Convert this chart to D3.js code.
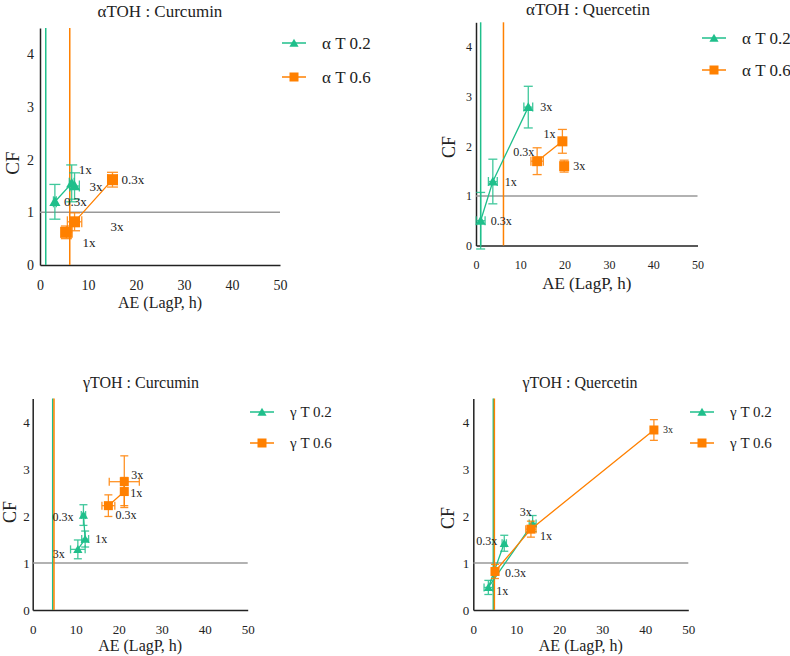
<!DOCTYPE html>
<html>
<head>
<meta charset="utf-8">
<script src="https://cdn.jsdelivr.net/npm/d3@7"></script>
<style>
  body { margin: 0; background: #fff; }
  svg text { font-family: "Liberation Serif", "Tinos", "Times New Roman", "DejaVu Serif", serif; fill: #222; }
</style>
</head>
<body>
<svg id="chart" width="790" height="656"></svg>
<script>
// dose labels, shared by every series
var doses = ["0.3x", "1x", "3x"];
var xTicks = [0, 10, 20, 30, 40, 50];
var yTicks = [0, 1, 2, 3, 4];

// αTOH : Curcumin
var aCurT2AE = [3.1, 6.6, 7.2], aCurT2CF = [1.2, 1.55, 1.5];
var aCurT2AEerr = [0.3, 0.5, 1.0], aCurT2CFerr = [0.33, 0.35, 0.25];
var aCurT6AE = [15.1, 5.5, 7.2], aCurT6CF = [1.62, 0.62, 0.82];
var aCurT6AEerr = [1.0, 1.2, 1.5], aCurT6CFerr = [0.14, 0.12, 0.17];
var aCurCtrl = [1.2, 6.2];

// αTOH : Quercetin
var aQueT2AE = [1.05, 3.8, 11.8], aQueT2CF = [0.5, 1.29, 2.79];
var aQueT2AEerr = [1.0, 1.0, 1.0], aQueT2CFerr = [0.57, 0.45, 0.42];
var aQueT6AE = [13.8, 19.5, 19.9], aQueT6CF = [1.7, 2.1, 1.6];
var aQueT6AEerr = [1.4, 0.3, 0.5], aQueT6CFerr = [0.27, 0.24, 0.12];
var aQueCtrl = [1.05, 6.2];

// γTOH : Curcumin
var gCurT2AE = [11.8, 12.2, 10.5], gCurT2CF = [2.02, 1.51, 1.29];
var gCurT2AEerr = [0.5, 0.8, 1.7], gCurT2CFerr = [0.22, 0.17, 0.2];
var gCurT6AE = [17.6, 21.3, 21.3], gCurT6CF = [2.22, 2.52, 2.73];
var gCurT6AEerr = [1.5, 0.3, 3.5], gCurT6CFerr = [0.23, 0.3, 0.55];
var gCurCtrl = [4.65, 4.95];

// γTOH : Quercetin
var gQueT2AE = [7.2, 3.5, 13.8], gQueT2CF = [1.42, 0.48, 1.84];
var gQueT2AEerr = [0.5, 1.0, 0.8], gQueT2CFerr = [0.17, 0.15, 0.17];
var gQueT6AE = [5.05, 13.4, 42], gQueT6CF = [0.82, 1.72, 3.83];
var gQueT6AEerr = [0.8, 1.2, 0.3], gQueT6CFerr = [0.15, 0.17, 0.22];
var gQueCtrl = [4.65, 4.9];

var green = "#1fbf8b", orange = "#ff8000";
var serif = "'Liberation Serif', 'Tinos', 'Times New Roman', 'DejaVu Serif', serif";

function makeSeries(name, color, shape, ae, cf, aeErr, cfErr, links) {
  return {
    name: name, color: color, shape: shape, links: links,
    points: doses.map(function(d, i) {
      return { dose: d, ae: ae[i], cf: cf[i], aeErr: aeErr[i], cfErr: cfErr[i] };
    })
  };
}

// layout of each panel (pixels) and where the point labels go
var panels = [
  {
    title: "\u03b1TOH : Curcumin", left: 40, right: 280, bottom: 265, top: 28,
    tickSize: 14, tickGap: 6, titleX: 160, titleY: 17, titleSize: 17,
    cfX: 12, cfY: 163, cfSize: 19, aeY: 308, aeSize: 16, tickY: 290,
    legX: 282, legY: [43, 77], legSize: 17, mark: 11, cap: 11, labSize: 13,
    ctrl: aCurCtrl,
    series: [
      makeSeries("\u03b1 T 0.2", green, "tri", aCurT2AE, aCurT2CF, aCurT2AEerr, aCurT2CFerr, [0, 1, 2]),
      makeSeries("\u03b1 T 0.6", orange, "sq", aCurT6AE, aCurT6CF, aCurT6AEerr, aCurT6CFerr, [0, 2, 1])
    ],
    labels: [
      [[9, 0, "start"], [7, -14, "start"], [15, 0, "start"]],
      [[9, 0, "start"], [16, 10, "start"], [36, 5, "start"]]
    ]
  },
  {
    title: "\u03b1TOH : Quercetin", left: 476, right: 697.5, bottom: 245.5, top: 22.3,
    tickSize: 12, tickGap: 4, titleX: 588, titleY: 15, titleSize: 17,
    cfX: 449, cfY: 147, cfSize: 18, aeY: 289, aeSize: 17, tickY: 269,
    legX: 702, legY: [38, 70], legSize: 17, mark: 10, cap: 9, labSize: 12,
    ctrl: aQueCtrl,
    series: [
      makeSeries("\u03b1 T 0.2", green, "tri", aQueT2AE, aQueT2CF, aQueT2AEerr, aQueT2CFerr, [0, 1, 2]),
      makeSeries("\u03b1 T 0.6", orange, "sq", aQueT6AE, aQueT6CF, aQueT6AEerr, aQueT6CFerr, [0, 1])
    ],
    labels: [
      [[10, 0, "start"], [12, 0, "start"], [12, 0, "start"]],
      [[-3, -9, "end"], [-7, -8, "end"], [9, 0, "start"]]
    ]
  },
  {
    title: "\u03b3TOH : Curcumin", left: 32.7, right: 247.7, bottom: 610, top: 398.5,
    tickSize: 13, tickGap: 3, titleX: 141, titleY: 388, titleSize: 16,
    cfX: 10, cfY: 512, cfSize: 18, aeY: 651, aeSize: 16, tickY: 634,
    legX: 250, legY: [412, 443], legSize: 15, mark: 9, cap: 8, labSize: 12,
    ctrl: gCurCtrl,
    series: [
      makeSeries("\u03b3 T 0.2", green, "tri", gCurT2AE, gCurT2CF, gCurT2AEerr, gCurT2CFerr, [0, 1, 2]),
      makeSeries("\u03b3 T 0.6", orange, "sq", gCurT6AE, gCurT6CF, gCurT6AEerr, gCurT6CFerr, [0, 1, 2])
    ],
    labels: [
      [[-10, 2, "end"], [10, 0, "start"], [-13, 4, "end"]],
      [[7, 9, "start"], [6, 1, "start"], [7, -7, "start"]]
    ]
  },
  {
    title: "\u03b3TOH : Quercetin", left: 473.3, right: 688.3, bottom: 610, top: 398.5,
    tickSize: 13, tickGap: 4, titleX: 580, titleY: 388, titleSize: 16,
    cfX: 448, cfY: 518, cfSize: 18, aeY: 651, aeSize: 16, tickY: 634,
    legX: 690, legY: [412, 443], legSize: 15, mark: 9, cap: 8, labSize: 12,
    ctrl: gQueCtrl,
    series: [
      makeSeries("\u03b3 T 0.2", green, "tri", gQueT2AE, gQueT2CF, gQueT2AEerr, gQueT2CFerr, [0, 1, 2]),
      makeSeries("\u03b3 T 0.6", orange, "sq", gQueT6AE, gQueT6CF, gQueT6AEerr, gQueT6CFerr, [0, 1, 2])
    ],
    labels: [
      [[-7, -2, "end"], [8, 3, "start"], [-1, -12, "end"]],
      [[10, 1, "start"], [9, 7, "start"], [9, 0, "start", 10]]
    ]
  }
];

var svg = d3.select("#chart");

function marker(g, shape, cx, cy, size, color) {
  if (shape === "sq") {
    g.append("rect").attr("x", cx - size / 2).attr("y", cy - size / 2)
      .attr("width", size).attr("height", size).attr("fill", color);
  } else {
    var sym = d3.symbol().type(d3.symbolTriangle).size(size * size * 0.45);
    g.append("path").attr("d", sym()).attr("transform", "translate(" + cx + "," + (cy + 1) + ")")
      .attr("fill", color);
  }
}

function drawPanel(p) {
  var g = svg.append("g");
  var x = d3.scaleLinear().domain([0, 50]).range([p.left, p.right]);
  var y = d3.scaleLinear().domain([0, 4.5]).range([p.bottom, p.top]);

  // axes
  var ya = g.append("g").attr("transform", "translate(" + x(0) + ",0)")
    .call(d3.axisLeft(y).tickValues(yTicks).tickSize(0).tickPadding(p.tickGap).tickFormat(d3.format("d")));
  var xa = g.append("g").attr("transform", "translate(0," + y(0) + ")")
    .call(d3.axisBottom(x).tickValues(xTicks).tickSize(0).tickFormat(d3.format("d")));
  [ya, xa].forEach(function(a) {
    a.attr("font-family", serif);
    a.select(".domain").attr("stroke", "#222").attr("stroke-width", 1.5);
    a.selectAll("text").attr("font-size", p.tickSize).attr("fill", "#222");
  });
  xa.selectAll("text").attr("dy", null).attr("y", p.tickY - y(0));

  // CF = 1 reference and control lag lines
  g.append("line").attr("x1", x(0)).attr("x2", x(50)).attr("y1", y(1)).attr("y2", y(1))
    .attr("stroke", "#999").attr("stroke-width", 1.5);
  p.series.forEach(function(s, si) {
    g.append("line").attr("x1", x(p.ctrl[si])).attr("x2", x(p.ctrl[si]))
      .attr("y1", y(0)).attr("y2", y(4.5)).attr("stroke", s.color).attr("stroke-width", 1.5);
  });

  // series
  p.series.forEach(function(s, si) {
    var sg = g.append("g");
    var line = d3.line().x(function(i) { return x(s.points[i].ae); }).y(function(i) { return y(s.points[i].cf); });
    sg.append("path").attr("d", line(s.links)).attr("fill", "none").attr("stroke", s.color).attr("stroke-width", 1.3);
    s.points.forEach(function(d) {
      var cx = x(d.ae), cy = y(d.cf), h = p.cap / 2;
      var eb = sg.append("g").attr("stroke", s.color).attr("stroke-width", 1.3).attr("opacity", 0.85);
      eb.append("line").attr("x1", cx).attr("x2", cx).attr("y1", y(d.cf - d.cfErr)).attr("y2", y(d.cf + d.cfErr));
      eb.append("line").attr("x1", cx - h).attr("x2", cx + h).attr("y1", y(d.cf - d.cfErr)).attr("y2", y(d.cf - d.cfErr));
      eb.append("line").attr("x1", cx - h).attr("x2", cx + h).attr("y1", y(d.cf + d.cfErr)).attr("y2", y(d.cf + d.cfErr));
      eb.append("line").attr("x1", x(d.ae - d.aeErr)).attr("x2", x(d.ae + d.aeErr)).attr("y1", cy).attr("y2", cy);
      eb.append("line").attr("x1", x(d.ae - d.aeErr)).attr("x2", x(d.ae - d.aeErr)).attr("y1", cy - h).attr("y2", cy + h);
      eb.append("line").attr("x1", x(d.ae + d.aeErr)).attr("x2", x(d.ae + d.aeErr)).attr("y1", cy - h).attr("y2", cy + h);
      marker(sg, s.shape, cx, cy, p.mark, s.color);
    });
    s.points.forEach(function(d, i) {
      var lab = p.labels[si][i];
      g.append("text").attr("x", x(d.ae) + lab[0]).attr("y", y(d.cf) + lab[1])
        .attr("dy", "0.35em").attr("text-anchor", lab[2])
        .attr("font-size", lab[3] || p.labSize).text(d.dose);
    });

    // legend entry
    var ly = p.legY[si];
    g.append("line").attr("x1", p.legX).attr("x2", p.legX + 24).attr("y1", ly).attr("y2", ly)
      .attr("stroke", s.color).attr("stroke-width", 1.5);
    marker(g, s.shape, p.legX + 12, ly, 9, s.color);
    g.append("text").attr("x", p.legX + 40).attr("y", ly).attr("dy", "0.35em")
      .attr("font-size", p.legSize).text(s.name);
  });

  // titles
  g.append("text").attr("x", p.titleX).attr("y", p.titleY).attr("text-anchor", "middle")
    .attr("font-size", p.titleSize).text(p.title);
  g.append("text").attr("x", (p.left + p.right) / 2).attr("y", p.aeY).attr("text-anchor", "middle")
    .attr("font-size", p.aeSize).text("AE (LagP, h)");
  g.append("text").attr("transform", "translate(" + p.cfX + "," + p.cfY + ") rotate(-90)")
    .attr("text-anchor", "middle").attr("dy", "0.35em").attr("font-size", p.cfSize).text("CF");
}

panels.forEach(drawPanel);
</script>
</body>
</html>
